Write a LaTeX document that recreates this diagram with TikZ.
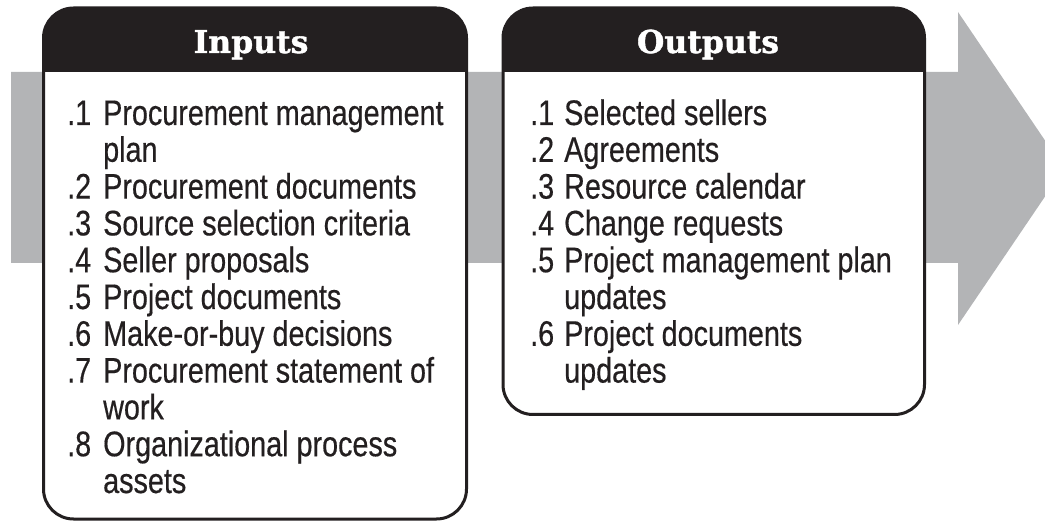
\documentclass[tikz,border=0pt]{standalone}
\usepackage{fontspec}
\newfontfamily\bodyfont[FakeStretch=0.81,FakeBold=0.4]{Liberation Sans}
\newfontfamily\headfont[BoldFeatures={FakeBold=1.2}]{DejaVu Serif}
\definecolor{ink}{HTML}{231F20}
\definecolor{arrowgray}{HTML}{B3B4B6}
\begin{document}
\begin{tikzpicture}[x=1pt,y=-1pt,
  item/.style={anchor=base west, inner sep=0pt, font=\bodyfont\fontsize{35.5}{36.8}\selectfont, text=ink},
  head/.style={anchor=base, inner sep=0pt, font=\headfont\bfseries\fontsize{31.5}{31.5}\selectfont, text=white},
  boxline/.style={draw=ink, line width=3pt, rounded corners=30pt},
  boxfill/.style={fill=white, rounded corners=30pt}]
\useasboundingbox (0,0) rectangle (1045,521);
\clip (0,0) rectangle (1045,521);
% big gray arrow
\fill[arrowgray] (11,72) -- (958,72) -- (958,12) -- (1064,168.5) -- (958,325) -- (958,263) -- (11,263) -- cycle;
% Inputs box
\coordinate (inTL) at (43.5,8);
\coordinate (inBR) at (466.5,519);
\fill[boxfill] (inTL) rectangle (inBR);
\begin{scope}
  \clip[rounded corners=30pt] (inTL) rectangle (inBR);
  \fill[ink] (43.5,0) rectangle (466.5,72);
\end{scope}
\draw[boxline] (inTL) rectangle (inBR);
% Outputs box
\coordinate (outTL) at (503,8);
\coordinate (outBR) at (924.5,414.5);
\fill[boxfill] (outTL) rectangle (outBR);
\begin{scope}
  \clip[rounded corners=30pt] (outTL) rectangle (outBR);
  \fill[ink] (503,0) rectangle (924.5,72);
\end{scope}
\draw[boxline] (outTL) rectangle (outBR);
% headers
\node[head] (inhead) at (251,53) {Inputs};
\node[head] (outhead) at (708,53) {Outputs};
% Inputs items
\node[item] (in1n) at (67,125) {.1};
\node[item] (in1t) at (103,125) {Procurement management};
\node[item] (in1c) at (103,161.8) {plan};
\node[item] (in2n) at (67,198.6) {.2};
\node[item] (in2t) at (103,198.6) {Procurement documents};
\node[item] (in3n) at (67,235.4) {.3};
\node[item] (in3t) at (103,235.4) {Source selection criteria};
\node[item] (in4n) at (67,272.2) {.4};
\node[item] (in4t) at (103,272.2) {Seller proposals};
\node[item] (in5n) at (67,309) {.5};
\node[item] (in5t) at (103,309) {Project documents};
\node[item] (in6n) at (67,345.8) {.6};
\node[item] (in6t) at (103,345.8) {Make-or-buy decisions};
\node[item] (in7n) at (67,382.6) {.7};
\node[item] (in7t) at (103,382.6) {Procurement statement of};
\node[item] (in7c) at (103,419.4) {work};
\node[item] (in8n) at (67,456.2) {.8};
\node[item] (in8t) at (103,456.2) {Organizational process};
\node[item] (in8c) at (103,493) {assets};
% Outputs items
\node[item] (out1n) at (530,125) {.1};
\node[item] (out1t) at (564,125) {Selected sellers};
\node[item] (out2n) at (530,161.8) {.2};
\node[item] (out2t) at (564,161.8) {Agreements};
\node[item] (out3n) at (530,198.6) {.3};
\node[item] (out3t) at (564,198.6) {Resource calendar};
\node[item] (out4n) at (530,235.4) {.4};
\node[item] (out4t) at (564,235.4) {Change requests};
\node[item] (out5n) at (530,272.2) {.5};
\node[item] (out5t) at (564,272.2) {Project management plan};
\node[item] (out5c) at (564,309) {updates};
\node[item] (out6n) at (530,345.8) {.6};
\node[item] (out6t) at (564,345.8) {Project documents};
\node[item] (out6c) at (564,382.6) {updates};
\end{tikzpicture}
\end{document}
